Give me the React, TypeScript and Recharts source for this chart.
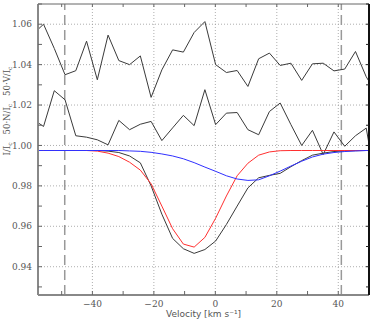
import React from 'react';
import { LineChart, Line, XAxis, YAxis, ReferenceLine } from 'recharts';

// velocity grid [km/s]
const velocity = [
  -59.4, -55.9, -52.4, -48.9, -45.4, -41.9, -38.4, -34.9, -31.4, -27.9, -24.4,
  -20.9, -17.4, -13.9, -10.4, -6.9, -3.4, 0.1, 3.6, 7.1, 10.6, 14.1, 17.6, 21.1,
  24.6, 28.1, 31.6, 35.1, 38.6, 42.1, 45.6, 49.1, 52.6,
];

// 50*V/Ic, shifted up
const stokesV = [
  1.055, 1.06, 1.048, 1.035, 1.037, 1.0516, 1.0325, 1.0546, 1.042, 1.04, 1.0443,
  1.0238, 1.0374, 1.0473, 1.0462, 1.0559, 1.0613, 1.04, 1.0361, 1.0371, 1.0292,
  1.0429, 1.0457, 1.0396, 1.0407, 1.0322, 1.0404, 1.0407, 1.0369, 1.0378, 1.0465,
  1.034, 1.025,
];

// 50*N/Ic, shifted up
const nullN = [
  1.013, 1.0094, 1.0271, 1.0226, 1.0048, 1.0041, 1.0028, 1.0003, 1.0124, 1.0078,
  1.0105, 1.0119, 1.0024, 1.0087, 1.0149, 1.0098, 1.0276, 1.0103, 1.016, 1.0163,
  1.0078, 1.0053, 1.0168, 1.021, 1.0103, 1.0, 1.0075, 0.9955, 1.0067, 0.9996,
  1.0048, 1.0086, 0.978,
];

// observed I/Ic
const stokesI = [
  0.9975, 0.9975, 0.9975, 0.9975, 0.9975, 0.9975, 0.9975, 0.9972, 0.9965, 0.9948,
  0.9914, 0.98, 0.966, 0.954, 0.9489, 0.9466, 0.9485, 0.9527, 0.9609, 0.97, 0.979,
  0.984, 0.9852, 0.9862, 0.9895, 0.9925, 0.9952, 0.9962, 0.997, 0.9973, 0.9974,
  0.9975, 0.9975,
];

// primary component
const fitRed = [
  0.9975, 0.9975, 0.9975, 0.9975, 0.9975, 0.9975, 0.9972, 0.9962, 0.9945, 0.9917,
  0.9878, 0.981, 0.97, 0.9588, 0.9512, 0.9497, 0.9545, 0.964, 0.975, 0.985, 0.9912,
  0.9952, 0.9968, 0.9974, 0.9975, 0.9975, 0.9975, 0.9975, 0.9975, 0.9975, 0.9975,
  0.9975, 0.9975,
];

// secondary component
const fitBlue = [
  0.9975, 0.9975, 0.9975, 0.9975, 0.9975, 0.9975, 0.9975, 0.9975, 0.9975, 0.9973,
  0.9971, 0.9966, 0.9958, 0.9948, 0.9934, 0.9915, 0.9893, 0.9872, 0.985, 0.9834,
  0.9827, 0.983, 0.985, 0.9873, 0.9898, 0.9922, 0.9943, 0.9957, 0.9965, 0.997,
  0.9973, 0.9975, 0.9975,
];

const xTicks = [-50, -40, -30, -20, -10, 0, 10, 20, 30, 40, 50];
const xMajor = [-40, -20, 0, 20, 40];
const yTicks = [0.93, 0.94, 0.95, 0.96, 0.97, 0.98, 0.99, 1.0, 1.01, 1.02, 1.03, 1.04, 1.05, 1.06, 1.07];
const yMajor = [0.94, 0.96, 0.98, 1.0, 1.02, 1.04, 1.06];
const integrationLimits = [-49, 41];

const xDomain: [number, number] = [-57.7, 50];
const yDomain: [number, number] = [0.926, 1.07];

const data = velocity.map((v, i) => ({
  v,
  V: stokesV[i],
  N: nullN[i],
  I: stokesI[i],
  red: fitRed[i],
  blue: fitBlue[i],
}));

const tickFont = { fontFamily: 'DejaVu Serif', fontSize: 9, fill: '#555' };

const fmtX = (t: number) => (xMajor.includes(t) ? String(t).replace('-', '\u2212') : '');
const fmtY = (t: number) =>
  yMajor.some(m => Math.abs(m - t) < 1e-6) ? t.toFixed(2) : '';

// rotated axis title with subscripts
const YLabel = () => (
  <text
    x={10}
    y={111}
    transform="rotate(-90, 10, 111)"
    textAnchor="middle"
    fontFamily="DejaVu Serif"
    fontSize={8.5}
    fill="#555"
  >
    <tspan>I/I</tspan>
    <tspan fontSize={6} dy={2}>c</tspan>
    <tspan dx={8} dy={-2}>50·N/I</tspan>
    <tspan fontSize={6} dy={2}>c</tspan>
    <tspan dx={8} dy={-2}>50·V/I</tspan>
    <tspan fontSize={6} dy={2}>c</tspan>
  </text>
);

export default function App() {
  return (
    <div style={{ position: 'absolute', left: 0, top: 0, width: 374, height: 320, background: '#fff' }}>
      <LineChart width={374} height={320} data={data} margin={{ top: 0, right: 0, bottom: 0, left: 0 }}>
        <XAxis
          dataKey="v"
          type="number"
          domain={xDomain}
          allowDataOverflow
          ticks={xTicks}
          interval={0}
          tickFormatter={fmtX}
          height={25}
          tickSize={-4}
          tickMargin={10}
          tick={tickFont}
          axisLine={{ stroke: '#888', strokeWidth: 2 }}
          tickLine={{ stroke: '#666' }}
          label={{
            value: 'Velocity [km s\u207b\u00b9]',
            position: 'insideBottom',
            offset: 3,
            style: { fontFamily: 'DejaVu Sans', fontSize: 9, fill: '#555' },
          }}
        />
        <XAxis
          xAxisId="top"
          orientation="top"
          dataKey="v"
          type="number"
          domain={xDomain}
          allowDataOverflow
          ticks={xTicks}
          interval={0}
          tickFormatter={() => ''}
          height={4}
          tickSize={-3}
          axisLine={{ stroke: '#666', strokeWidth: 1 }}
          tickLine={{ stroke: '#666' }}
        />
        <YAxis
          type="number"
          domain={yDomain}
          allowDataOverflow
          ticks={yTicks}
          interval={0}
          tickFormatter={fmtY}
          width={38}
          tickSize={-4}
          tickMargin={10}
          tick={tickFont}
          axisLine={{ stroke: '#888', strokeWidth: 2 }}
          tickLine={{ stroke: '#666' }}
          label={<YLabel />}
        />
        <YAxis
          yAxisId="right"
          orientation="right"
          type="number"
          domain={yDomain}
          allowDataOverflow
          ticks={yTicks}
          interval={0}
          tickFormatter={() => ''}
          width={5}
          tickSize={-3}
          axisLine={{ stroke: '#111', strokeWidth: 2 }}
          tickLine={{ stroke: '#222' }}
        />
        {xMajor.map(t => (
          <ReferenceLine key={`gx${t}`} x={t} stroke="#999" strokeDasharray="1 2" strokeWidth={0.8} />
        ))}
        {yMajor.map(t => (
          <ReferenceLine key={`gy${t}`} y={t} stroke="#999" strokeDasharray="1 2" strokeWidth={0.8} />
        ))}
        {integrationLimits.map(t => (
          <ReferenceLine key={`lim${t}`} x={t} stroke="#999" strokeDasharray="10 5" strokeWidth={1.5} />
        ))}
        <Line dataKey="V" stroke="#3a3a3a" strokeWidth={1} dot={false} isAnimationActive={false} />
        <Line dataKey="N" stroke="#3a3a3a" strokeWidth={1} dot={false} isAnimationActive={false} />
        <Line dataKey="I" stroke="#3a3a3a" strokeWidth={1} dot={false} isAnimationActive={false} />
        <Line dataKey="red" stroke="#ff3030" strokeWidth={1} dot={false} isAnimationActive={false} />
        <Line dataKey="blue" stroke="#3030ff" strokeWidth={1} dot={false} isAnimationActive={false} />
      </LineChart>
    </div>
  );
}
